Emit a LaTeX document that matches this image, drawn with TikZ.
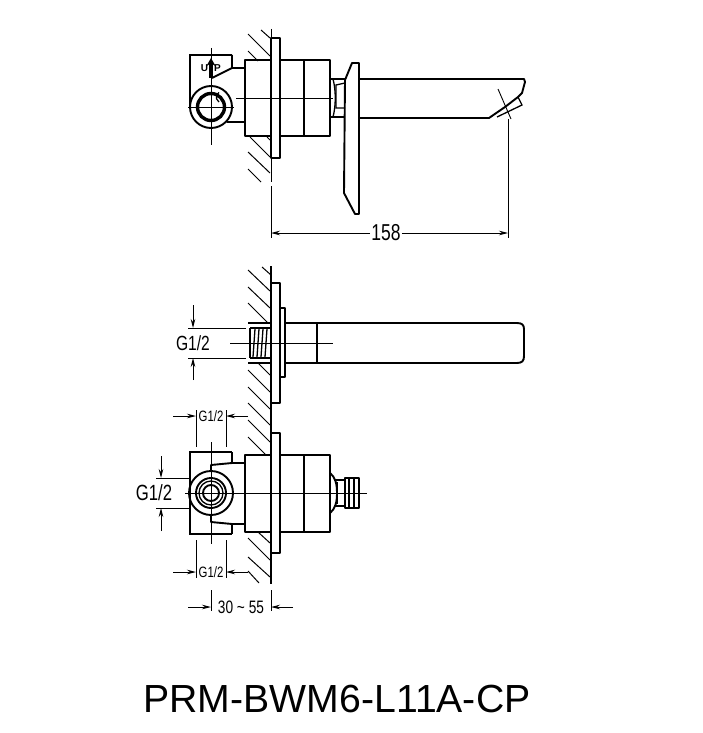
\documentclass[tikz,border=0pt]{standalone}
\usepackage{fontspec}
\setmainfont{Liberation Sans}
\newfontfamily\narrowfont[FakeStretch=0.76]{Liberation Sans}
\usetikzlibrary{arrows.meta,positioning}
\tikzset{
  part/.style = {line width=1.9pt, line join=round},
  heavy/.style = {line width=2.8pt},
  fine/.style = {line width=1.3pt},
  thin/.style = {line width=0.9pt},
  hatch/.style = {line width=1pt},
  dim/.style = {line width=0.9pt, -{Stealth[length=9pt,width=4.5pt]}},
  dimtext/.style = {inner sep=0pt, font=\narrowfont\fontsize{#1}{#1}\selectfont},
  title/.style = {inner sep=0pt, font=\fontsize{39.2}{39.2}\selectfont}
}

\begin{document}
\begin{tikzpicture}[x=1pt,y=-1pt]
\useasboundingbox (0,0) rectangle (703,733);

%% top view
\draw[thin] (271,29) -- (271,182);
\foreach \xa/\ya/\xb/\yb in {261/30/270/38,248/34/270/56,248/51/258/61,
    250/137/270/157,267/137/270/140,248/152/270/173,248/169/261/182}
  \draw[hatch] (\xa,\ya) -- (\xb,\yb);
\draw[part] (271,38) rectangle (280,158);
\draw[part] (245,60) rectangle (271,136);
\draw[part] (280,60) rectangle (330,136);
\draw[part] (304,60) -- (304,136);
% neck
\draw[part] (330,79) -- (345,79);
\draw[part] (330,117) -- (345,117);
\draw[fine] (333,79) .. controls (336,90) and (336,106) .. (333,117);
\draw[fine] (345,83) -- (336,85) -- (336,108) -- (345,108);
% lever
\draw[part] (359,63) -- (352,63) -- (345,80) -- (344,193) -- (355,214) -- (359,214) -- cycle;
% spout
\draw[part] (359,79) -- (524,79) -- (525,82) -- (522,93) -- (518,97) -- (505,107) -- (489,118) -- (359,118);
\draw[fine] (518,97) -- (522,105) -- (497,117);
\draw[thin] (498,89) -- (511,119);
% valve
\draw[part] (190,105) -- (190,55);
\draw[heavy] (189,55) -- (232,55);
\draw[part] (232,55) -- (232,68) -- (212,78);
\draw[part] (232,68) -- (245,68);
\draw[part] (227,122) -- (245,122);
\draw[part] (211,107) circle (21);
\draw[line width=3.4pt] (211,107) circle (13.5);
\draw[fine] (219,102) arc (120:240:5.5);
% centre lines
\draw[thin] (211,48) -- (211,145);
\draw[thin] (188,107) -- (234,107);
\draw[thin] (236,98) -- (333,98);
% up mark
\draw[line width=4pt,-{Stealth[length=8pt,width=9pt]}] (211,78) -- (211,58);
\node[inner sep=0pt, font=\bfseries\fontsize{10}{10}\selectfont] (upU) at (204.5,68) {U};
\node[inner sep=0pt, font=\bfseries\fontsize{10}{10}\selectfont] (upP) at (217.5,68) {P};

% length
\coordinate (lenA) at (271,233);
\coordinate (lenB) at (508,233);
\node[dimtext=23, fill=white, inner xsep=1pt] (len) at (386,233) {158};
\draw[thin] (271,186) -- (271,238);
\draw[thin] (508,119) -- (508,238);
\draw[dim] (len) -- (lenA);
\draw[dim] (len) -- (lenB);

%% side view
\draw[fine] (271,266) -- (271,584);
\foreach \xa/\ya/\xb/\yb in {262/267/271/275,248/270/270/291,248/287/270/308,248/303/268/323,
    258/363/270/375,248/370/270/392,248/387/270/409,248/403/270/425,248/420/270/442,248/437/266/455,
    258/532/270/543,248/538/270/560,248/557/270/577,248/571/259/583}
  \draw[hatch] (\xa,\ya) -- (\xb,\yb);
\draw[part] (271,283) rectangle (280,403);
\draw[part] (280,308) rectangle (285,377);
\draw[part] (285,323) -- (517,323) .. controls (522,323) and (524,325) .. (524,329)
   -- (524,356) .. controls (524,361) and (522,363) .. (517,363) -- (285,363);
\draw[part] (317,323) -- (317,363);
\draw[part] (248,323) -- (271,323);
\draw[part] (248,363) -- (271,363);
\draw[part] (271,328) -- (250,328);
\draw[part] (250,358) -- (271,358);
\draw[line width=2.6pt] (250,328) -- (250,358);
\foreach \xt in {254,258,262,266}
  \draw[fine] (\xt+1,329) -- (\xt-1,357);
\draw[thin] (230,343) -- (333,343);

\draw[thin] (188,328) -- (246,328);
\draw[thin] (188,358) -- (246,358);
\coordinate (gsA) at (193,328);
\coordinate (gsB) at (193,358);
\draw[dim] (193,305) -- (gsA);
\draw[dim] (193,380) -- (gsB);
\node[dimtext=20.5, fill=white] (gs) at (193,343) {G1/2};

%% back view
\draw[part] (271,433) rectangle (280,553);
\draw[part] (245,455) rectangle (271,532);
\draw[part] (280,455) rectangle (330,532);
\draw[part] (304,455) -- (304,532);
% handle
\draw[part] (330,473) .. controls (335,477) and (337,483) .. (337,493) .. controls (337,503) and (335,509) .. (330,513);
\draw[part] (334,480) -- (345,480) (334,506) -- (345,506);
\draw[fine] (337,482) -- (337,504);
\draw[part] (345,478) rectangle (359,508);
\draw[fine] (349,478) -- (349,508);
\draw[fine] (354,478) -- (354,508);
% valve
\draw[part] (190,452) -- (190,534);
\draw[heavy] (189,452) -- (232,452);
\draw[heavy] (189,534) -- (232,534);
\draw[part] (232,452) -- (232,463) -- (245,463);
\draw[part] (232,534) -- (232,524) -- (245,524);
\draw[part] (232,463) -- (211,465) -- (211,470);
\draw[part] (232,524) -- (211,522) -- (211,516);
\draw[part] (211,493) circle (22);
\draw[part] (211,493) circle (15);
\draw[fine] (211,493) circle (12);
\draw[part] (211,493) circle (8);
\draw[thin] (211,442) -- (211,544);
\draw[thin] (185,493) -- (367,493);

% left size
\draw[thin] (156,478) -- (190,478);
\draw[thin] (156,508) -- (190,508);
\coordinate (glA) at (161,478);
\coordinate (glB) at (161,508);
\draw[dim] (161,456) -- (glA);
\draw[dim] (161,531) -- (glB);
\node[dimtext=22, fill=white] (gl) at (154,493) {G1/2};

% top size
\coordinate (gtA) at (196,416);
\coordinate (gtB) at (226,416);
\draw[thin] (196,410) -- (196,447);
\draw[thin] (226,410) -- (226,447);
\draw[dim] (173,416) -- (gtA);
\draw[dim] (248,416) -- (gtB);
\node[dimtext=15] (gt) at (211,416) {G1/2};

% bottom size
\coordinate (gbA) at (196,572);
\coordinate (gbB) at (226,572);
\draw[thin] (196,540) -- (196,578);
\draw[thin] (226,540) -- (226,578);
\draw[dim] (173,572) -- (gbA);
\draw[dim] (248,572) -- (gbB);
\node[dimtext=15] (gb) at (211,572) {G1/2};

% depth
\coordinate (depA) at (211,607);
\coordinate (depB) at (271,607);
\draw[thin] (211,590) -- (211,611);
\draw[thin] (271,590) -- (271,611);
\draw[dim] (188,607) -- (depA);
\draw[dim] (293,607) -- (depB);
\node[dimtext=18] (dep) at (241,607) {30 \textasciitilde{} 55};

\node[title] (name) at (337,699) {PRM-BWM6-L11A-CP};
\end{tikzpicture}
\end{document}
